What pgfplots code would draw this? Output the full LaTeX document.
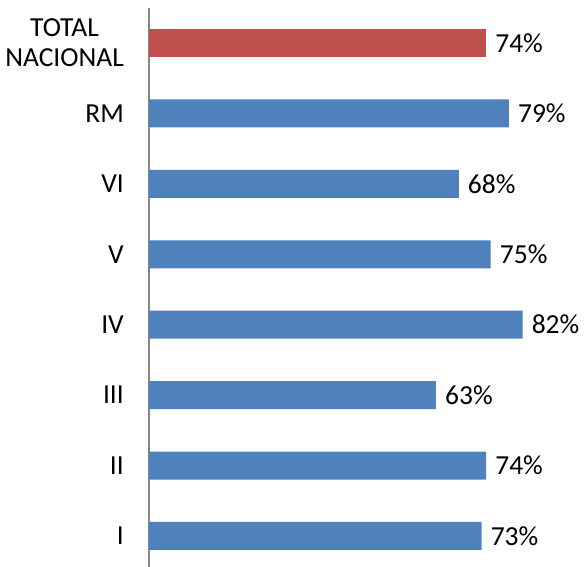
\documentclass[border=0pt]{standalone}
\usepackage{pgfplots}
\pgfplotsset{compat=1.18}
\usepackage{fontspec}
\setmainfont{Carlito}
\definecolor{barblue}{HTML}{4F81BD}
\definecolor{barred}{HTML}{C0504D}
\definecolor{axgray}{HTML}{868686}
\begin{document}
\begin{tikzpicture}[x=1pt,y=1pt]
\path[use as bounding box] (0,0) rectangle (587,567);
\begin{axis}[
  at={(149pt,-4.2pt)}, anchor=south west,
  scale only axis, width=410pt, height=563.4pt,
  xbar, bar width=28pt, bar shift=0pt,
  xmin=0, xmax=90, ymin=-0.5, ymax=7.5,
  axis y line*=left, axis x line=none,
  y axis line style={axgray, line width=1.6pt},
  ytick={0,...,7},
  yticklabels={I,II,III,IV,V,VI,RM,{TOTAL\\NACIONAL}},
  major tick length=0pt,
  yticklabel style={anchor=east, inner sep=0pt, xshift=-25pt, align=center, font=\fontsize{27.5}{30}\selectfont, text=black},
  /pgf/number format/assume math mode=true,
  nodes near coords={\pgfmathprintnumber{\pgfplotspointmeta}\%},
  every node near coord/.append style={anchor=west, inner sep=0pt, xshift=9pt, font=\fontsize{27.5}{30}\selectfont, text=black},
  clip=false,
]
\addplot[fill=barblue, draw=none] coordinates {(73,0) (74,1) (63,2) (82,3) (75,4) (68,5) (79,6)};
\addplot[fill=barred, draw=none] coordinates {(74,7)};
\end{axis}
\end{tikzpicture}
\end{document}
